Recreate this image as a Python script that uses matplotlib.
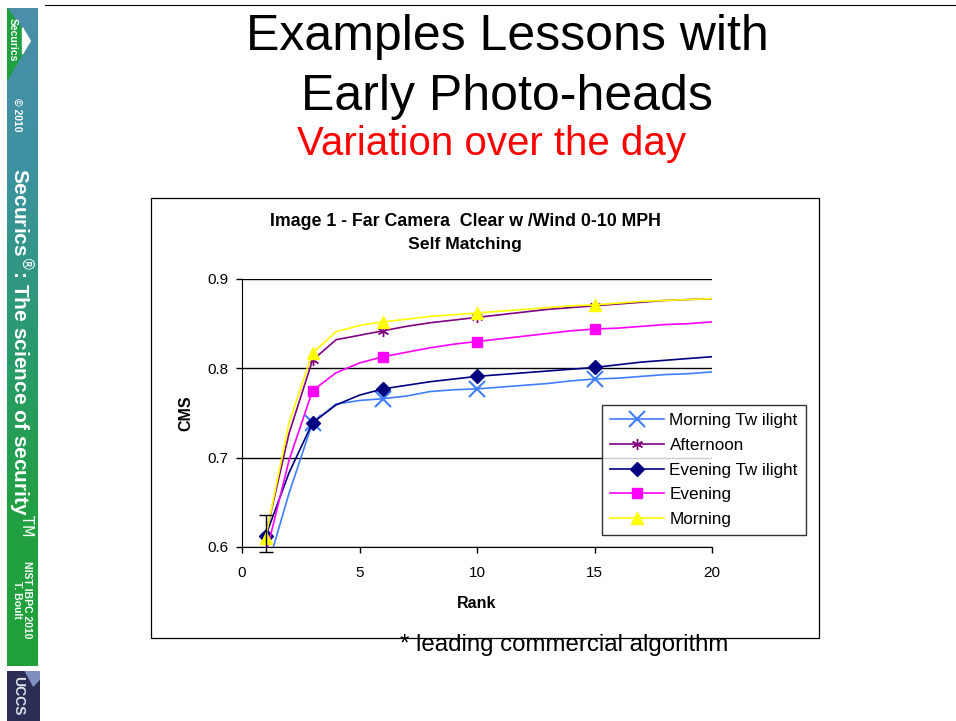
import numpy as np
import matplotlib
matplotlib.use("Agg")
import matplotlib.pyplot as plt
from matplotlib.colors import LinearSegmentedColormap

plt.rcParams['font.family'] = ['Liberation Sans', 'DejaVu Sans']

rank = list(range(1, 21))
morning_twilight = [0.570, 0.660, 0.739, 0.760, 0.764, 0.766, 0.769, 0.774, 0.776, 0.777,
                    0.779, 0.781, 0.783, 0.786, 0.788, 0.789, 0.791, 0.793, 0.794, 0.796]
afternoon = [0.612, 0.727, 0.809, 0.832, 0.837, 0.842, 0.847, 0.851, 0.854, 0.857,
             0.860, 0.863, 0.866, 0.868, 0.870, 0.872, 0.874, 0.876, 0.877, 0.878]
evening_twilight = [0.612, 0.683, 0.739, 0.759, 0.770, 0.777, 0.781, 0.785, 0.788, 0.791,
                    0.793, 0.795, 0.797, 0.799, 0.801, 0.804, 0.807, 0.809, 0.811, 0.813]
evening = [0.590, 0.697, 0.775, 0.795, 0.806, 0.813, 0.818, 0.823, 0.827, 0.830,
           0.833, 0.836, 0.839, 0.842, 0.844, 0.845, 0.847, 0.849, 0.850, 0.852]
morning = [0.610, 0.739, 0.817, 0.841, 0.848, 0.852, 0.855, 0.858, 0.860, 0.862,
           0.864, 0.866, 0.868, 0.870, 0.871, 0.873, 0.875, 0.876, 0.877, 0.878]
marker_ranks = [1, 3, 6, 10, 15]
err_rank, err_center, err_size = 1, 0.615, 0.021

series = [
    ("Morning Tw ilight", morning_twilight, '#3F7FFF', 'x', 11),
    ("Afternoon", afternoon, '#800080', (6, 2, 0), 8),
    ("Evening Tw ilight", evening_twilight, '#000080', 'D', 7),
    ("Evening", evening, '#FF00FF', 's', 7),
    ("Morning", morning, '#FFFF00', '^', 9),
]

W, H = 956, 721
fig = plt.figure(figsize=(W / 100, H / 100), dpi=100)
fig.patch.set_facecolor('white')

def px(x0, y0, x1, y1):
    return [x0 / W, 1 - y1 / H, (x1 - x0) / W, (y1 - y0) / H]

# sidebar gradient
side = fig.add_axes(px(7, 8, 38, 666))
cmap = LinearSegmentedColormap.from_list('side', ['#4A8FAA', '#3C92A0', '#2A9A70', '#22A045', '#20A038'])
grad = np.linspace(0, 1, 256).reshape(-1, 1)
side.imshow(grad, aspect='auto', cmap=cmap, extent=[0, 1, 1, 0])
side.fill([0, 0.75, 0], [0, 0.05, 0.11], color='#1FA040', zorder=2)
side.fill([0.5, 0.75, 0.5], [0.03, 0.05, 0.07], color='white', zorder=3)
side.set_xlim(0, 1); side.set_ylim(1, 0)
side.set_axis_off()
logo = fig.add_axes(px(7, 671, 40, 721))
logo.set_facecolor('#2A2E55')
logo.set_xticks([]); logo.set_yticks([])
for s in logo.spines.values():
    s.set_visible(False)
logo.fill([0.55, 0.8, 1.0, 1.0, 0.55], [1.0, 0.7, 0.85, 1.0, 1.0], color='#7F8FC0', transform=logo.transAxes)
logo.text(0.35, 0.5, "UCCS", rotation=-90, color='#E0E2EA', fontsize=10, fontweight='bold',
          ha='center', va='center', transform=logo.transAxes)

fig.text(13 / W, 1 - 40 / H, "Securics", rotation=-90, color='white', fontsize=7.5, fontweight='bold',
         ha='center', va='center')
fig.text(17 / W, 1 - 115 / H, "© 2010", rotation=-90, color='white', fontsize=7.5, fontweight='bold',
         ha='center', va='center')
fig.text(21 / W, 1 - 352 / H, "Securics$^{\\circledR}$: The science of security$^{\\rm TM}$", rotation=-90,
         color='white', fontsize=15, fontweight='bold', ha='center', va='center')
fig.text(22 / W, 1 - 600 / H, "NIST IBPC 2010\nT. Boult", rotation=-90, color='white', fontsize=7.5,
         fontweight='bold', ha='center', va='center', linespacing=1.0)

# top line
fig.add_artist(plt.Line2D([45 / W, 1], [1 - 5 / H, 1 - 5 / H], color='black', lw=0.8))

# titles
fig.text(507 / W, 1 - 50 / H, "Examples Lessons with", fontsize=36, ha='center', va='baseline')
fig.text(507 / W, 1 - 110 / H, "Early Photo-heads", fontsize=36, ha='center', va='baseline')
fig.text(492 / W, 1 - 155 / H, "Variation over the day", fontsize=29, ha='center', va='baseline', color='red')

# chart frame
frame = plt.Rectangle((151 / W, 1 - 638 / H), (819 - 151) / W, (638 - 198) / H, transform=fig.transFigure,
                      fill=False, edgecolor='black', lw=0.9)
fig.add_artist(frame)
fig.text(465 / W, 1 - 222 / H, "Image 1 - Far Camera  Clear w /Wind 0-10 MPH",
         fontsize=12.8, fontweight='bold', ha='center', va='center')
fig.text(465 / W, 1 - 244 / H, "Self Matching",
         fontsize=12.6, fontweight='bold', ha='center', va='center')

ax = fig.add_axes(px(242, 279, 712, 547))
ax.set_xlim(0, 20)
ax.set_ylim(0.6, 0.9)
for name, vals, col, mk, ms in series:
    idx = [rank.index(r) for r in marker_ranks]
    ax.plot(rank, vals, color=col, lw=1.2, marker=mk, markersize=ms, markevery=idx,
            markeredgewidth=1.5 if mk == 'x' else 1, label=name, clip_on=True)
ax.errorbar([err_rank], [err_center], yerr=[err_size], fmt='none', ecolor='black', elinewidth=1,
            capsize=5, clip_on=False)
ax.set_yticks([0.6, 0.7, 0.8, 0.9])
ax.set_yticklabels(['0.6', '0.7', '0.8', '0.9'])
ax.set_xticks([0, 5, 10, 15, 20])
ax.grid(axis='y', color='black', lw=1)
ax.set_axisbelow(True)
for s in ['top', 'right']:
    ax.spines[s].set_visible(False)
ax.tick_params(direction='out', length=4, labelsize=11, width=1)
ax.tick_params(axis='x', pad=10)
ax.tick_params(axis='y', pad=6)
ax.set_xlabel("Rank", fontsize=11.5, fontweight='bold', labelpad=11)
ax.set_ylabel("CMS", fontsize=11.5, fontweight='bold', labelpad=10)

leg = ax.legend(loc='upper left', bbox_to_anchor=((602 - 242) / 470, 1 - (405 - 279) / 268),
                frameon=True, fancybox=False, edgecolor='black', fontsize=12.3, handlelength=3.2,
                borderaxespad=0, labelspacing=0.58, borderpad=0.45, handletextpad=0.3)
leg.get_frame().set_linewidth(1)

fig.text(564 / W, 1 - 645 / H, "* leading commercial algorithm", fontsize=17.3, ha='center', va='center')

fig.savefig("out.png", dpi=100, facecolor='white')
